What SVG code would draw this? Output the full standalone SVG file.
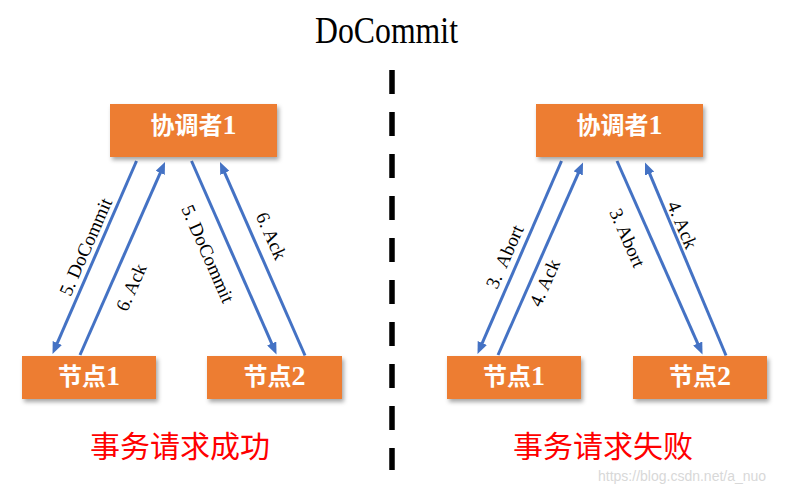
<svg xmlns="http://www.w3.org/2000/svg" width="797" height="487" viewBox="0 0 797 487">
<style>
.box{fill:#ED7D31;filter:url(#sh)}
.nt{font-family:"Liberation Serif","Noto Sans CJK SC",serif;font-weight:bold;font-size:24px;fill:#fff;text-anchor:middle}
.dg{font-size:28px}
.ln{stroke:#4472C4;stroke-width:3;fill:none;marker-end:url(#ah)}
.lb{font-family:"Liberation Serif","Noto Sans CJK SC",serif;font-size:19px;fill:#000;text-anchor:middle}
.red{font-family:"Noto Sans CJK SC",sans-serif;font-size:30px;fill:#FF0000;text-anchor:middle}
</style>
<defs>
<filter id="sh" x="-10%" y="-20%" width="130%" height="150%">
<feDropShadow dx="2" dy="3" stdDeviation="2" flood-color="#000" flood-opacity="0.35"/>
</filter>
<marker id="ah" viewBox="0 0 12 10" markerWidth="12" markerHeight="10" markerUnits="userSpaceOnUse" refX="4" refY="5" orient="auto">
<path d="M0,0 L12,5 L0,10 z" fill="#4472C4"/>
</marker>
</defs>
<rect width="797" height="487" fill="#fff"/>
<text transform="translate(315,43) scale(1,1.2)" font-family="Liberation Serif, serif" font-size="31" textLength="143" lengthAdjust="spacingAndGlyphs">DoCommit</text>
<line x1="392" y1="70" x2="392" y2="470" stroke="#000" stroke-width="5.5" stroke-dasharray="24 18"/>
<g id="connectors">
<line class="ln" x1="136.5" y1="161" x2="55.7" y2="346.7"/>
<line class="ln" x1="80" y1="355" x2="161.8" y2="169.3"/>
<line class="ln" x1="191.5" y1="161" x2="273.3" y2="347.2"/>
<line class="ln" x1="305" y1="355.5" x2="223.2" y2="169.3"/>
<line class="ln" x1="561.5" y1="161" x2="480.7" y2="346.7"/>
<line class="ln" x1="498" y1="355" x2="579.8" y2="169.8"/>
<line class="ln" x1="617" y1="161" x2="699.3" y2="347.2"/>
<line class="ln" x1="726" y1="355.5" x2="648.1" y2="169.9"/>
<text class="lb" transform="translate(86,247) rotate(-66.2)" y="6">5. DoCommit</text>
<text class="lb" transform="translate(131.5,287.5) rotate(-66.2)" y="6">6. Ack</text>
<text class="lb" transform="translate(207.5,254) rotate(66.2)" y="6">5. DoCommit</text>
<text class="lb" transform="translate(271,236) rotate(66.2)" y="6">6. Ack</text>
<text class="lb" transform="translate(505,257) rotate(-66.2)" y="6" xml:space="preserve">3.  Abort</text>
<text class="lb" transform="translate(545,283) rotate(-66.2)" y="6">4. Ack</text>
<text class="lb" transform="translate(627,238) rotate(66.2)" y="6">3. Abort</text>
<text class="lb" transform="translate(682,225) rotate(67)" y="6">4. Ack</text>
</g>
<g id="coord-left"><rect class="box" x="110" y="104" width="167" height="53"/><text class="nt" x="193.5" y="134">协调者<tspan class="dg">1</tspan></text></g>
<g id="node1-left"><rect class="box" x="22" y="356" width="134" height="43"/><text class="nt" x="89" y="385">节点<tspan class="dg">1</tspan></text></g>
<g id="node2-left"><rect class="box" x="207" y="356" width="135" height="43"/><text class="nt" x="274.5" y="385">节点<tspan class="dg">2</tspan></text></g>
<g id="coord-right"><rect class="box" x="536" y="104" width="167" height="53"/><text class="nt" x="619.5" y="134">协调者<tspan class="dg">1</tspan></text></g>
<g id="node1-right"><rect class="box" x="447" y="356" width="134" height="43"/><text class="nt" x="514" y="385">节点<tspan class="dg">1</tspan></text></g>
<g id="node2-right"><rect class="box" x="633" y="356" width="134" height="43"/><text class="nt" x="700" y="385">节点<tspan class="dg">2</tspan></text></g>
<text class="red" x="180" y="457">事务请求成功</text>
<text class="red" x="603" y="457">事务请求失败</text>
<text x="598" y="481" font-family="Liberation Sans, sans-serif" font-size="14" fill="#d8d8d8">https://blog.csdn.net/a_nuo</text>
</svg>
